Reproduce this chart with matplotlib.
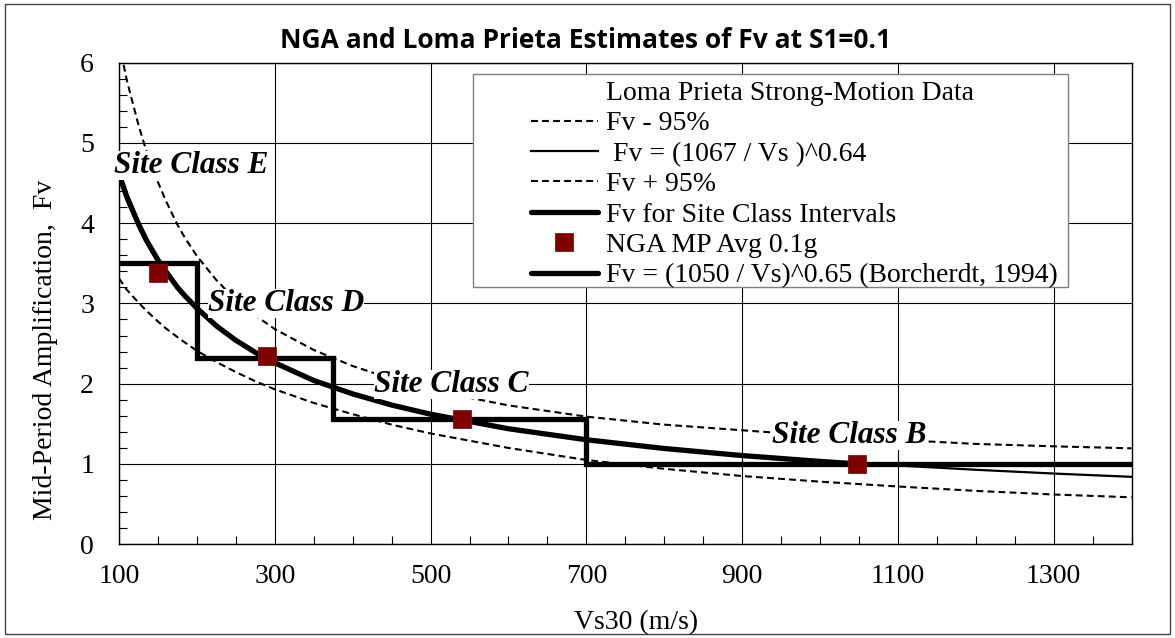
import matplotlib
matplotlib.use("Agg")
import matplotlib.pyplot as plt
from matplotlib.patches import Rectangle
from matplotlib.ticker import MultipleLocator

# Loma Prieta regression and 95% band
vs_band = [100, 110, 125, 135, 150, 160, 175, 185, 200, 225, 250, 275, 300, 350,
           400, 450, 500, 600, 700, 800, 900, 1000, 1100, 1200, 1300, 1400]
fv_mean = [4.55, 4.28, 3.945, 3.755, 3.51, 3.37, 3.18, 3.07, 2.92, 2.71, 2.53, 2.38,
           2.25, 2.04, 1.874, 1.738, 1.624, 1.445, 1.310, 1.202, 1.115, 1.042, 0.981,
           0.928, 0.881, 0.840]
fv_upper = [6.24, 5.78, 5.22, 4.90, 4.51, 4.28, 3.98, 3.81, 3.59, 3.29, 3.04, 2.85,
            2.68, 2.42, 2.22, 2.06, 1.92, 1.73, 1.59, 1.49, 1.42, 1.35, 1.30, 1.25,
            1.22, 1.195]
fv_lower = [3.31, 3.17, 3.01, 2.91, 2.775, 2.69, 2.58, 2.51, 2.41, 2.27, 2.145, 2.03,
            1.93, 1.76, 1.62, 1.49, 1.38, 1.20, 1.05, 0.94, 0.85, 0.78, 0.72, 0.665,
            0.62, 0.585]

# Borcherdt (1994)
vs_borch = [100, 110, 125, 135, 150, 160, 175, 185, 200, 225, 250, 275, 300, 350,
            400, 450, 500, 600, 700, 800, 900, 1000, 1050]
fv_borch = [4.61, 4.33, 3.99, 3.79, 3.54, 3.40, 3.20, 3.09, 2.94, 2.72, 2.54, 2.39,
            2.26, 2.04, 1.873, 1.734, 1.620, 1.439, 1.302, 1.193, 1.105, 1.032, 1.0]

# site class intervals
class_vs = [100, 200, 375, 700, 1400]
class_fv = [3.5, 2.32, 1.56, 1.0, 1.0]

# NGA mid-period averages
nga_vs = [150, 290, 540, 1048]
nga_fv = [3.38, 2.35, 1.56, 1.0]

site_labels = ["Site Class E", "Site Class D", "Site Class C", "Site Class B"]
label_vs = [93.5, 214, 428, 939]
label_fv = [4.62, 2.905, 1.90, 1.258]

serif = "Liberation Serif"
plt.rcParams['font.family'] = serif

fig = plt.figure(figsize=(11.75, 6.38), dpi=100)
ax = fig.add_axes([0.1013, 0.1469, 0.8617, 0.7551])

fig.patches.append(Rectangle((0.004, 0.006), 0.992, 0.988, transform=fig.transFigure,
                             fill=False, edgecolor='#444444', linewidth=1.0))

dash = (3.3, 2.0)
ax.plot([], [], ls='none', label='Loma Prieta Strong-Motion Data')
ax.plot(vs_band, fv_lower, color='black', lw=1.5, ls=(0, dash), label='Fv - 95%', zorder=3)
ax.plot(vs_band, fv_mean, color='black', lw=1.6, label=' Fv = (1067 / Vs )^0.64', zorder=3)
ax.plot(vs_band, fv_upper, color='black', lw=1.5, ls=(0, dash), label='Fv + 95%', zorder=3)
ax.step(class_vs, class_fv, where='post', color='black', lw=3.8,
        solid_capstyle='round', solid_joinstyle='miter',
        label='Fv for Site Class Intervals', zorder=4)
ax.plot(nga_vs, nga_fv, ls='none', marker='s', markersize=13, color='#800000',
        markeredgecolor='#8a1010', markeredgewidth=0.6, label='NGA MP Avg 0.1g', zorder=6)
ax.plot(vs_borch, fv_borch, color='black', lw=3.8, solid_capstyle='round',
        label='Fv = (1050 / Vs)^0.65 (Borcherdt, 1994)', zorder=4)

for txt, x, y in zip(site_labels, label_vs, label_fv):
    ax.text(x, y, txt, fontsize=22.5, fontweight='bold', fontstyle='italic',
            ha='left', va='baseline', zorder=5, clip_on=False,
            bbox=dict(facecolor='white', edgecolor='none', pad=0))

ax.set_xlim(100, 1400)
ax.set_ylim(0, 6)
ax.set_xticks(range(100, 1401, 200))
ax.xaxis.set_minor_locator(MultipleLocator(50))
ax.yaxis.set_major_locator(MultipleLocator(1))
ax.yaxis.set_minor_locator(MultipleLocator(0.2))
ax.grid(True, which='major', color='black', lw=0.8)
ax.set_axisbelow(True)
ax.tick_params(which='both', direction='in', labelsize=20)
ax.tick_params(which='major', length=0)
ax.tick_params(which='minor', length=6, width=0.8)
ax.tick_params(axis='x', pad=14)
ax.tick_params(axis='y', pad=18)
for s in ax.spines.values():
    s.set_linewidth(1.0)

# legend frame drawn separately so the handles can sit inset like the original
ax.add_patch(Rectangle((0.350, 0.534), 0.587, 0.442, transform=ax.transAxes,
                       facecolor='white', edgecolor='#7f7f7f', lw=1.0, zorder=7))
leg = ax.legend(loc='upper left', bbox_to_anchor=(0.407, 0.963), frameon=False,
                fontsize=20, borderpad=0, borderaxespad=0, handlelength=2.4,
                handletextpad=0.3, labelspacing=0.18)
leg.set_zorder(8)

fig.text(586 / 1175, 1 - 40 / 638, 'NGA and Loma Prieta Estimates of Fv at S1=0.1',
         ha='center', va='center', fontsize=19, fontweight='bold', family='Open Sans')
fig.text(636 / 1175, 1 - 623 / 638, 'Vs30 (m/s)', ha='center', va='center', fontsize=20)
fig.text(46 / 1175, 1 - 350 / 638, 'Mid-Period Amplification,  Fv', ha='center',
         va='center', rotation=90, fontsize=20)

fig.savefig('out.png', dpi=100)
